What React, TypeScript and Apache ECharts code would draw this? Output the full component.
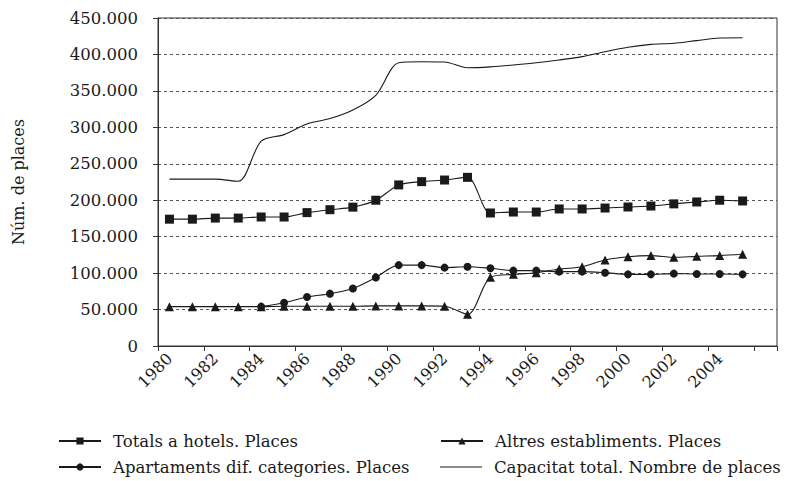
import React, { useEffect, useRef } from "react";
import * as echarts from "echarts";

const years = [
  "1980", "1981", "1982", "1983", "1984", "1985", "1986", "1987", "1988", "1989",
  "1990", "1991", "1992", "1993", "1994", "1995", "1996", "1997", "1998", "1999",
  "2000", "2001", "2002", "2003", "2004", "2005", "2006",
];

const hotels = [
  174000, 174000, 175500, 175500, 177000, 177000, 183000, 187000, 190500, 200000,
  221000, 225500, 227700, 231400, 182500, 183800, 183800, 188000, 188000, 189300,
  190700, 192000, 195000, 197600, 200000, 199000,
];

const apartaments = [
  null, null, null, null, 54000, 59400, 67200, 71800, 79000, 94000,
  111000, 111000, 107500, 108800, 106600, 103400, 103400, 102000, 102000, 100600,
  98300, 98300, 99300, 98800, 98800, 98300,
];

const altres = [
  54000, 54000, 54000, 54000, 54000, 54500, 54500, 54500, 54500, 55000,
  55000, 55000, 54500, 43400, 94200, 98300, 100600, 105600, 108800, 118000,
  122500, 124000, 121700, 123000, 124000, 125800,
];

const capacitat = [
  229000, 229000, 229000, 226000, 281000, 290000, 304600, 312000, 323800, 344000,
  388700, 390000, 389600, 381800, 383000, 385500, 388700, 392400, 397000, 403800,
  409800, 413800, 415300, 419000, 422600, 423000,
];

const NAMES = [
  "Totals a hotels. Places",
  "Altres establiments. Places",
  "Apartaments dif. categories. Places",
  "Capacitat total. Nombre de places",
];

const FONT = "DejaVu Serif";
const INK = "#1a1a1a";

function fmt(v: number): string {
  return String(v).replace(/\B(?=(\d{3})+(?!\d))/g, ".");
}

function legendAt(name: string, left: number, top: number, extra: any = {}) {
  return {
    left,
    top,
    padding: 0,
    itemWidth: 42,
    itemHeight: 9,
    textStyle: { fontFamily: FONT, fontSize: 16.5, color: INK, lineHeight: 18, padding: [0, 0, 0, 7] },
    data: [name],
    ...extra,
  };
}

export default function App() {
  const ref = useRef<HTMLDivElement>(null);

  useEffect(() => {
    document.body.style.margin = "0";
    if (!ref.current) return;
    const chart = echarts.init(ref.current, null, { renderer: "svg" });
    const lineBase = { color: INK, width: 1.1 };
    chart.setOption({
      animation: false,
      backgroundColor: "#ffffff",
      textStyle: { fontFamily: FONT, color: INK },
      grid: {
        left: 158,
        right: 10,
        top: 18,
        bottom: 135,
        show: true,
        borderColor: "#333",
        borderWidth: 1,
      },
      legend: [
        legendAt(NAMES[0], 58, 432),
        legendAt(NAMES[1], 440, 432),
        legendAt(NAMES[2], 58, 458),
        legendAt(NAMES[3], 440, 458, { icon: "rect", itemHeight: 1.2 }),
      ],
      xAxis: {
        type: "category",
        data: years,
        boundaryGap: true,
        axisLine: { lineStyle: { color: "#333", width: 1 } },
        axisTick: { show: true, length: 5, lineStyle: { color: "#333" } },
        axisLabel: {
          interval: 1,
          rotate: 45,
          margin: 10,
          fontFamily: FONT,
          fontSize: 16,
          color: INK,
          formatter: (v: string) => (v === "2006" ? "" : v),
        },
        splitLine: { show: false },
      },
      yAxis: {
        type: "value",
        min: 0,
        max: 450000,
        interval: 50000,
        name: "Núm. de places",
        nameLocation: "middle",
        nameGap: 132,
        nameTextStyle: { fontFamily: FONT, fontSize: 16, color: INK },
        axisLine: { show: true, lineStyle: { color: "#333", width: 1 } },
        axisTick: { show: true, length: 5, lineStyle: { color: "#333" } },
        axisLabel: {
          margin: 20,
          fontFamily: FONT,
          fontSize: 16.5,
          color: INK,
          formatter: (v: number) => fmt(v),
        },
        splitLine: {
          show: true,
          lineStyle: { color: "#555", type: [3, 3], width: 1 },
        },
      },
      series: [
        {
          name: NAMES[0],
          type: "line",
          data: hotels,
          smooth: 0.3,
          symbol: "rect",
          symbolSize: 9,
          itemStyle: { color: INK },
          lineStyle: lineBase,
        },
        {
          name: NAMES[1],
          type: "line",
          data: altres,
          smooth: 0.3,
          symbol: "triangle",
          symbolSize: 9,
          itemStyle: { color: INK },
          lineStyle: lineBase,
        },
        {
          name: NAMES[2],
          type: "line",
          data: apartaments,
          smooth: 0.3,
          symbol: "circle",
          symbolSize: 8,
          itemStyle: { color: INK },
          lineStyle: lineBase,
        },
        {
          name: NAMES[3],
          type: "line",
          data: capacitat,
          smooth: 0.3,
          symbol: "none",
          itemStyle: { color: INK },
          lineStyle: lineBase,
        },
      ],
    });
    return () => chart.dispose();
  }, []);

  return <div ref={ref} style={{ width: 787, height: 481 }} />;
}
